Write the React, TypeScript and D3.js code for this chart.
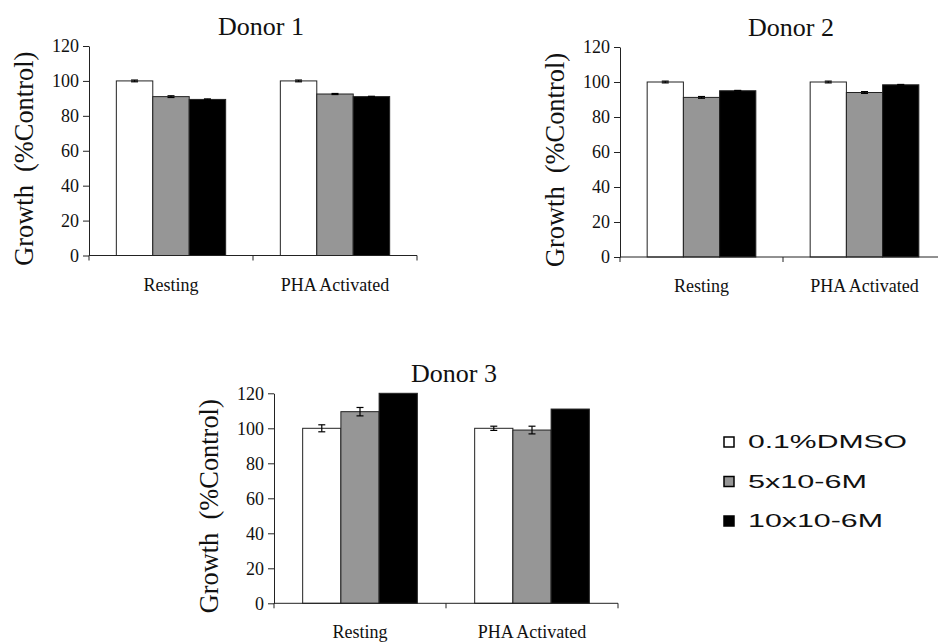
import React, { useEffect, useRef } from 'react';
import * as d3 from 'd3';

const categories = ['Resting', 'PHA Activated'];
const seriesNames = ['0.1%DMSO', '5x10-6M', '10x10-6M'];
const seriesColors = ['#ffffff', '#969696', '#000000'];
const yTicks = [0, 20, 40, 60, 80, 100, 120];

// values per category, one entry per series
const donor1Values = [[100, 91, 89.4], [100, 92.5, 91]];
const donor1Errors = [[0.5, 0.5, 0.3], [0.5, 0.3, 0.2]];
const donor2Values = [[100, 91.2, 95], [100, 94, 98.4]];
const donor2Errors = [[0.5, 0.5, 0.2], [0.5, 0.5, 0.2]];
const donor3Values = [[100, 109.5, 120], [100, 99, 111]];
const donor3Errors = [[2, 2.4, 0], [1.2, 2.2, 0]];

const panels = [
  { title: 'Donor 1', values: donor1Values, errors: donor1Errors, left: 89, top: 46, bottom: 255.5, catWidth: 164 },
  { title: 'Donor 2', values: donor2Values, errors: donor2Errors, left: 620, top: 47, bottom: 257, catWidth: 163 },
  { title: 'Donor 3', values: donor3Values, errors: donor3Errors, left: 274, top: 393.3, bottom: 603.3, catWidth: 172 },
];

const serif = '"Liberation Serif", "Times New Roman", serif';
const sans = '"Liberation Sans", Arial, sans-serif';

export default function App() {
  const svgRef = useRef<SVGSVGElement>(null);

  useEffect(() => {
    if (!svgRef.current) return;
    document.body.style.margin = '0';
    const svg = d3.select(svgRef.current);
    svg.selectAll('*').remove();

    panels.forEach((p) => {
      const width = p.catWidth * categories.length;
      const g = svg.append('g').attr('transform', `translate(${p.left},0)`);

      const x0 = d3.scaleBand<string>().domain(categories).range([0, width]).padding(0);
      const barW = x0.bandwidth() / 4.5;
      const x1 = d3.scaleBand<string>()
        .domain(seriesNames)
        .range([barW * 0.75, x0.bandwidth() - barW * 0.75])
        .padding(0);
      const y = d3.scaleLinear().domain([0, 120]).range([p.bottom, p.top]);

      // bars
      categories.forEach((cat, ci) => {
        seriesNames.forEach((s, si) => {
          const v = p.values[ci][si];
          const bx = x0(cat)! + x1(s)!;
          g.append('rect')
            .attr('x', bx)
            .attr('y', y(v))
            .attr('width', x1.bandwidth())
            .attr('height', y(0) - y(v))
            .attr('fill', seriesColors[si])
            .attr('stroke', '#222')
            .attr('stroke-width', 1);

          const e = p.errors[ci][si];
          if (e > 0) {
            const cx = bx + x1.bandwidth() / 2;
            const eg = g.append('g').attr('stroke', '#000').attr('stroke-width', 1.2);
            eg.append('line').attr('x1', cx).attr('x2', cx).attr('y1', y(v + e)).attr('y2', y(v - e));
            eg.append('line').attr('x1', cx - 3.5).attr('x2', cx + 3.5).attr('y1', y(v + e)).attr('y2', y(v + e));
            eg.append('line').attr('x1', cx - 3.5).attr('x2', cx + 3.5).attr('y1', y(v - e)).attr('y2', y(v - e));
          }
        });
      });

      // y axis
      const yAxis = g.append('g')
        .call(d3.axisLeft(y).tickValues(yTicks).tickSize(6).tickPadding(4).tickSizeOuter(0));
      yAxis.select('.domain').attr('stroke', '#222');
      yAxis.selectAll('line').attr('stroke', '#222');
      yAxis.selectAll('text')
        .attr('font-family', serif)
        .attr('font-size', 18)
        .attr('fill', '#111');

      // x axis with ticks at category boundaries
      const xg = g.append('g').attr('transform', `translate(0,${p.bottom})`);
      xg.append('line').attr('x1', 0).attr('x2', width).attr('stroke', '#222');
      d3.range(categories.length + 1).forEach((i) => {
        xg.append('line')
          .attr('x1', i * p.catWidth).attr('x2', i * p.catWidth)
          .attr('y1', 0).attr('y2', 5)
          .attr('stroke', '#222');
      });
      categories.forEach((cat) => {
        xg.append('text')
          .attr('x', x0(cat)! + x0.bandwidth() / 2)
          .attr('y', 35)
          .attr('text-anchor', 'middle')
          .attr('font-family', serif)
          .attr('font-size', 18)
          .attr('fill', '#111')
          .text(cat);
      });

      // title
      g.append('text')
        .attr('x', width / 2 + 8)
        .attr('y', p.top - 11)
        .attr('text-anchor', 'middle')
        .attr('font-family', serif)
        .attr('font-size', 26)
        .attr('fill', '#111')
        .text(p.title);

      // y label
      const cy = (p.top + p.bottom) / 2 + 8;
      g.append('text')
        .attr('transform', `translate(-56,${cy}) rotate(-90)`)
        .attr('text-anchor', 'middle')
        .attr('font-family', serif)
        .attr('font-size', 27)
        .attr('fill', '#111')
        .attr('textLength', 214)
        .attr('lengthAdjust', 'spacingAndGlyphs')
        .style('white-space', 'pre')
        .text('Growth  (%Control)');
    });

    // legend
    const legendLengths = [159, 119, 135];
    const legend = svg.append('g').attr('transform', 'translate(724,0)');
    seriesNames.forEach((s, i) => {
      const baseY = 448 + i * 39.5;
      legend.append('rect')
        .attr('x', 0)
        .attr('y', baseY - 11)
        .attr('width', 10)
        .attr('height', 10)
        .attr('fill', seriesColors[i])
        .attr('stroke', '#000')
        .attr('stroke-width', 1.5);
      legend.append('text')
        .attr('x', 24)
        .attr('y', baseY)
        .attr('font-family', sans)
        .attr('font-size', 18)
        .attr('fill', '#111')
        .attr('textLength', legendLengths[i])
        .attr('lengthAdjust', 'spacingAndGlyphs')
        .text(s);
    });
  }, []);

  return (
    <svg ref={svgRef} width={938} height={643} style={{ display: 'block', background: '#fff' }} />
  );
}
